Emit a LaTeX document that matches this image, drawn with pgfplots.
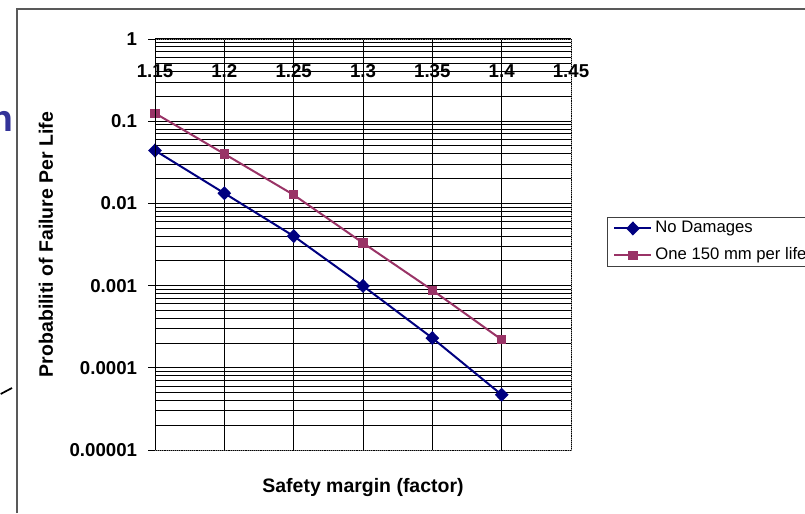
\documentclass[border=0pt]{standalone}
\usepackage{pgfplots}
\pgfplotsset{compat=1.18}
\usepackage{fontspec}
\setmainfont{Liberation Sans}
\definecolor{navyc}{HTML}{000080}
\definecolor{plumc}{HTML}{993366}
\definecolor{titlec}{HTML}{333399}
\begin{document}
\begin{tikzpicture}
\useasboundingbox (0,0) rectangle (603.75pt,384.75pt);
\clip (0,0) rectangle (603.75pt,384.75pt);
% slide frame
\draw[black!65, line width=1.1pt] (12.75pt,0pt) -- (12.75pt,378pt) -- (610pt,378pt);
% cropped slide remnants
\node[anchor=base east, inner sep=0pt, text=titlec, font=\bfseries\fontsize{28}{30}\selectfont] at (10.5pt,285.75pt) {n};
\draw[black, line width=1.3pt] (0.5pt,89.25pt) -- (9pt,93.75pt);
\begin{axis}[
  at={(116.25pt,47.25pt)}, anchor=south west,
  scale only axis, width=312pt, height=308.25pt,
  xmin=1.15, xmax=1.45, ymin=1e-5, ymax=1, ymode=log,
  xtick={1.15,1.2,1.25,1.3,1.35,1.4,1.45},
  xticklabels={1.15,1.2,1.25,1.3,1.35,1.4,1.45},
  ytick={1e-5,1e-4,1e-3,1e-2,1e-1,1},
  yticklabels={0.00001,0.0001,0.001,0.01,0.1,1},
  minor ytick={2e-5,3e-5,4e-5,5e-5,6e-5,7e-5,8e-5,9e-5,
    2e-4,3e-4,4e-4,5e-4,6e-4,7e-4,8e-4,9e-4,
    2e-3,3e-3,4e-3,5e-3,6e-3,7e-3,8e-3,9e-3,
    2e-2,3e-2,4e-2,5e-2,6e-2,7e-2,8e-2,9e-2,
    2e-1,3e-1,4e-1,5e-1,6e-1,7e-1,8e-1,9e-1},
  xmajorgrids, ymajorgrids, yminorgrids,
  grid style={black, line width=0.7pt},
  minor grid style={black, line width=0.7pt},
  axis line style={black!50, densely dotted, line width=0.6pt},
  xticklabel pos=upper, ytick pos=left,
  tick align=outside, 
  x tick style={draw=none},
  major y tick style={black, line width=0.7pt},
  minor y tick style={draw=none},
  major tick length=5.25pt,
  ticklabel style={font=\bfseries\fontsize{14}{16}\selectfont},
  xticklabel style={anchor=center, yshift=-29.25pt},
  yticklabel style={anchor=east, inner sep=0pt, xshift=-8pt},
  xlabel={Safety margin (factor)},
  ylabel={Probabiliti of Failure Per Life},
  label style={font=\bfseries\fontsize{14.6}{17}\selectfont},
  xlabel style={at={(axis description cs:0.5,-0.1046)}, anchor=base},
  ylabel style={at={(axis description cs:-0.2452,0.5)}, anchor=base, rotate=0},
  legend style={at={(rel axis cs:1.0865,0.5669)}, anchor=north west,
    draw=black!75, line width=0.7pt, inner xsep=4.5pt, inner ysep=2pt,
    font=\fontsize{12.5}{15}\selectfont, row sep=7.5pt, column sep=2.25pt,
    nodes={inner sep=0pt, text height=9.5pt, text depth=3pt}},
  legend cell align=left,
  legend image code/.code={\draw[#1, mark repeat=2, mark phase=2] plot coordinates {(0pt,0pt) (13.875pt,0pt) (27.75pt,0pt)};},
]
\addplot[navyc, line width=1.5pt, mark=diamond*, mark size=4.2pt, mark options={xscale=1.3, solid}] coordinates {
  (1.15,0.044) (1.2,0.0133) (1.25,0.0040) (1.3,0.00099) (1.35,0.00023) (1.4,0.000047)};
\addlegendentry{No Damages}
\addplot[plumc, line width=1.5pt, mark=square*, mark size=2.7pt, mark options={solid}] coordinates {
  (1.15,0.125) (1.2,0.040) (1.25,0.0127) (1.3,0.0033) (1.35,0.00088) (1.4,0.00022)};
\addlegendentry{One 150 mm per life}
\end{axis}
\draw[black, line width=0.75pt] (116.25pt,47.25pt) -- (116.25pt,355.5pt) -- (428.25pt,355.5pt);
\end{tikzpicture}
\end{document}
